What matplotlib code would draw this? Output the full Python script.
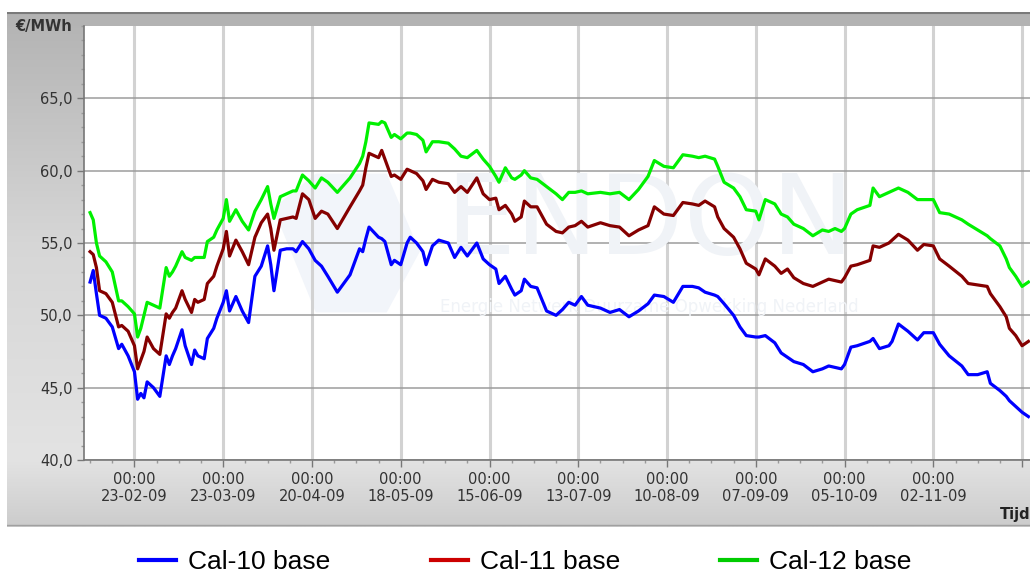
import matplotlib
matplotlib.use('Agg')
import matplotlib.pyplot as plt
import matplotlib.dates as mdates
from matplotlib.lines import Line2D
from matplotlib.patches import Rectangle, Polygon
from matplotlib.ticker import MultipleLocator
import numpy as np
import pandas as pd

dates = [
    '2009-02-09', '2009-02-10', '2009-02-11', '2009-02-12', '2009-02-14', '2009-02-16',
    '2009-02-18', '2009-02-19', '2009-02-21', '2009-02-23', '2009-02-24', '2009-02-25',
    '2009-02-26', '2009-02-27', '2009-03-01', '2009-03-03', '2009-03-05', '2009-03-06',
    '2009-03-07', '2009-03-08', '2009-03-10', '2009-03-11', '2009-03-13', '2009-03-14',
    '2009-03-15', '2009-03-17', '2009-03-18', '2009-03-20', '2009-03-21', '2009-03-23',
    '2009-03-24', '2009-03-25', '2009-03-27', '2009-03-29', '2009-03-31', '2009-04-02',
    '2009-04-04', '2009-04-06', '2009-04-07', '2009-04-08', '2009-04-10', '2009-04-12',
    '2009-04-14', '2009-04-15', '2009-04-17', '2009-04-19', '2009-04-21', '2009-04-23',
    '2009-04-25', '2009-04-28', '2009-05-02', '2009-05-05', '2009-05-06', '2009-05-07',
    '2009-05-08', '2009-05-11', '2009-05-12', '2009-05-13', '2009-05-15', '2009-05-16',
    '2009-05-18', '2009-05-20', '2009-05-21', '2009-05-23', '2009-05-25', '2009-05-26',
    '2009-05-28', '2009-05-30', '2009-06-02', '2009-06-04', '2009-06-06', '2009-06-08',
    '2009-06-11', '2009-06-13', '2009-06-15', '2009-06-17', '2009-06-18', '2009-06-20',
    '2009-06-22', '2009-06-23', '2009-06-25', '2009-06-26', '2009-06-28', '2009-06-30',
    '2009-07-03', '2009-07-06', '2009-07-08', '2009-07-10', '2009-07-12', '2009-07-14',
    '2009-07-16', '2009-07-20', '2009-07-23', '2009-07-26', '2009-07-29', '2009-08-01',
    '2009-08-04', '2009-08-06', '2009-08-09', '2009-08-12', '2009-08-15', '2009-08-18',
    '2009-08-20', '2009-08-22', '2009-08-25', '2009-08-26', '2009-08-28', '2009-08-31',
    '2009-09-02', '2009-09-04', '2009-09-07', '2009-09-08', '2009-09-10', '2009-09-13',
    '2009-09-15', '2009-09-17', '2009-09-19', '2009-09-22', '2009-09-25', '2009-09-28',
    '2009-09-30', '2009-10-02', '2009-10-04', '2009-10-05', '2009-10-07', '2009-10-09',
    '2009-10-13', '2009-10-14', '2009-10-16', '2009-10-19', '2009-10-20', '2009-10-22',
    '2009-10-25', '2009-10-28', '2009-10-30', '2009-11-02', '2009-11-04', '2009-11-07',
    '2009-11-11', '2009-11-13', '2009-11-16', '2009-11-19', '2009-11-20', '2009-11-23',
    '2009-11-25', '2009-11-26', '2009-11-28', '2009-11-30', '2009-12-02',
]

cal10 = [
    52.3, 53.1, 51.5, 50.0, 49.8, 49.2, 47.7, 48.0, 47.2, 46.1, 44.2, 44.6,
    44.3, 45.4, 45.0, 44.4, 47.2, 46.6, 47.2, 47.7, 49.0, 47.9, 46.6, 47.6,
    47.2, 47.0, 48.4, 49.1, 49.8, 50.9, 51.7, 50.3, 51.3, 50.3, 49.5, 52.7,
    53.4, 54.8, 53.5, 51.7, 54.5, 54.6, 54.6, 54.4, 55.1, 54.6, 53.8, 53.4,
    52.7, 51.6, 52.8, 54.6, 54.4, 55.3, 56.1, 55.4, 55.3, 55.1, 53.5, 53.8,
    53.5, 55.0, 55.4, 55.0, 54.4, 53.5, 54.8, 55.2, 55.0, 54.0, 54.7, 54.1,
    55.0, 53.9, 53.5, 53.2, 52.2, 52.7, 51.8, 51.4, 51.7, 52.5, 52.0, 51.9,
    50.3, 50.0, 50.4, 50.9, 50.7, 51.3, 50.7, 50.5, 50.2, 50.4, 49.9, 50.3,
    50.8, 51.4, 51.3, 50.9, 52.0, 52.0, 51.9, 51.6, 51.4, 51.3, 50.8, 50.0,
    49.2, 48.6, 48.5, 48.5, 48.6, 48.1, 47.4, 47.1, 46.8, 46.6, 46.1, 46.3,
    46.5, 46.4, 46.3, 46.6, 47.8, 47.9, 48.2, 48.4, 47.7, 47.9, 48.2, 49.4,
    48.9, 48.3, 48.8, 48.8, 48.0, 47.2, 46.5, 45.9, 45.9, 46.1, 45.3, 44.8,
    44.4, 44.1, 43.7, 43.3, 43.0,
]

cal11 = [
    54.4, 54.2, 53.3, 51.7, 51.5, 50.9, 49.2, 49.3, 48.9, 47.9, 46.3, 46.9,
    47.5, 48.5, 47.7, 47.3, 50.1, 49.8, 50.2, 50.5, 51.7, 51.1, 50.2, 51.1,
    50.9, 51.1, 52.2, 52.7, 53.4, 54.6, 55.8, 54.1, 55.2, 54.4, 53.5, 55.4,
    56.4, 57.0, 56.0, 54.5, 56.6, 56.7, 56.8, 56.7, 58.4, 58.0, 56.7, 57.2,
    57.0, 56.0, 57.5, 58.6, 59.0, 60.2, 61.2, 60.9, 61.4, 60.8, 59.6, 59.7,
    59.4, 60.1, 60.0, 59.8, 59.3, 58.7, 59.4, 59.2, 59.1, 58.5, 58.9, 58.5,
    59.5, 58.4, 58.0, 58.1, 57.3, 57.6, 57.0, 56.5, 56.8, 57.9, 57.5, 57.5,
    56.3, 55.8, 55.7, 56.1, 56.2, 56.5, 56.1, 56.4, 56.2, 56.1, 55.5, 55.9,
    56.2, 57.5, 57.0, 56.9, 57.8, 57.7, 57.6, 57.9, 57.5, 56.8, 56.0, 55.4,
    54.6, 53.6, 53.2, 52.8, 53.9, 53.4, 52.9, 53.2, 52.6, 52.2, 52.0, 52.3,
    52.5, 52.4, 52.3, 52.6, 53.4, 53.5, 53.8, 54.8, 54.7, 55.0, 55.2, 55.6,
    55.2, 54.5, 54.9, 54.8, 53.9, 53.4, 52.7, 52.2, 52.1, 52.0, 51.5, 50.6,
    49.9, 49.1, 48.6, 47.9, 48.2,
]

cal12 = [
    57.1, 56.6, 55.0, 54.1, 53.7, 53.0, 51.0, 51.0, 50.6, 50.1, 48.5, 49.1,
    50.0, 50.9, 50.7, 50.5, 53.3, 52.7, 53.0, 53.4, 54.4, 54.0, 53.8, 54.0,
    54.0, 54.0, 55.1, 55.4, 55.9, 56.7, 58.0, 56.5, 57.3, 56.5, 55.9, 57.2,
    58.0, 58.9, 57.7, 56.7, 58.2, 58.4, 58.6, 58.6, 59.7, 59.3, 58.8, 59.5,
    59.2, 58.5, 59.5, 60.5, 61.0, 62.0, 63.3, 63.2, 63.4, 63.3, 62.3, 62.5,
    62.2, 62.6, 62.6, 62.5, 62.1, 61.3, 62.0, 62.0, 61.9, 61.5, 61.0, 60.9,
    61.4, 60.8, 60.3, 59.6, 59.2, 60.2, 59.5, 59.4, 59.7, 60.0, 59.5, 59.4,
    58.9, 58.4, 58.0, 58.5, 58.5, 58.6, 58.4, 58.5, 58.4, 58.5, 58.0, 58.7,
    59.6, 60.7, 60.3, 60.2, 61.1, 61.0, 60.9, 61.0, 60.8, 60.3, 59.2, 58.8,
    58.2, 57.3, 57.2, 56.6, 58.0, 57.7, 57.0, 56.8, 56.3, 56.0, 55.5, 55.9,
    55.8, 56.0, 55.8, 56.0, 57.0, 57.3, 57.6, 58.8, 58.2, 58.5, 58.6, 58.8,
    58.5, 58.0, 58.0, 58.0, 57.1, 57.0, 56.6, 56.3, 55.9, 55.5, 55.3, 54.8,
    53.9, 53.3, 52.7, 52.0, 52.3,
]

series_names = ['Cal-10 base', 'Cal-11 base', 'Cal-12 base']
line_colors = ['#0000ff', '#850000', '#00f000']
legend_colors = ['#0000ff', '#cc0000', '#00cc00']

y_ticks = [40, 45, 50, 55, 60, 65]
x_major = pd.date_range('2009-02-23', periods=11, freq='28D')

W, H = 1030, 572
fig = plt.figure(figsize=(W / 100, H / 100), dpi=100)
fig.patch.set_facecolor('white')

# grijs paneel met verloop
bg = fig.add_axes([7 / W, (H - 527) / H, (W - 7) / W, (527 - 12) / H])
stops_y = [0.0, 0.03, 0.45, 0.87, 1.0]
stops_c = [(0.68, 0.68, 0.68), (0.71, 0.71, 0.71), (0.84, 0.84, 0.84),
           (0.89, 0.89, 0.89), (0.80, 0.80, 0.80)]
yy = np.linspace(0, 1, 300)
grad = np.stack([np.interp(yy, stops_y, [c[i] for c in stops_c]) for i in range(3)], axis=-1)
grad = np.repeat(grad[:, None, :], 2, axis=1)
bg.imshow(grad, aspect='auto', extent=[0, 1, 0, 1], origin='upper')
bg.add_patch(Rectangle((0, 1 - 13 / 515), 1, 13 / 515, color='#b3b3b3', lw=0))
bg.axhline(1 - 1 / 515, color='#7a7a7a', lw=1.5)
bg.axhline(0.003, color='#a0a0a0', lw=1)
bg.set_xlim(0, 1)
bg.set_ylim(0, 1)
bg.set_axis_off()

ax = fig.add_axes([84 / W, (H - 460) / H, (W - 84) / W, 434 / H])
ax.set_facecolor('white')

# watermerk (zeer licht)
ax.add_patch(Polygon([(0.20, 0.58), (0.245, 0.66), (0.32, 0.66), (0.355, 0.48),
                      (0.32, 0.34), (0.245, 0.34)], closed=True,
                     transform=ax.transAxes, facecolor='#f2f5fa', edgecolor='none', zorder=0.5))
ax.text(0.598, 0.545, 'ENDON', transform=ax.transAxes, fontsize=80, color='#f0f3f7',
        ha='center', va='center', zorder=0.6)
ax.text(0.598, 0.352, 'Energie Netwerk Duurzame Opwekking Nederland', transform=ax.transAxes,
        fontsize=12, color='#f0f3f7', ha='center', va='center', zorder=0.6)

x = pd.to_datetime(dates)
for vals, col in zip([cal10, cal11, cal12], line_colors):
    ax.plot(x, vals, color=col, lw=2.3, solid_joinstyle='round', zorder=3)

ax.set_ylim(40, 70)
ax.set_xlim(pd.Timestamp('2009-02-07 02:00'), pd.Timestamp('2009-12-02 12:00'))

ax.set_yticks(y_ticks, [f'{v:.1f}'.replace('.', ',') for v in y_ticks])
ax.yaxis.set_minor_locator(MultipleLocator(1))
x_labels = ['00:00\n' + d.strftime('%d-%m-%y') for d in x_major]
x_labels[-1] = ''
ax.set_xticks(x_major, x_labels)
ax.xaxis.set_minor_locator(mdates.WeekdayLocator(byweekday=mdates.MO))

ax.set_axisbelow(True)
ax.grid(axis='x', which='major', color='#d2d2d2', lw=2.2)
ax.grid(axis='y', which='major', color='#9c9c9c', lw=1.1)

for s in ['top', 'right']:
    ax.spines[s].set_visible(False)
for s in ['left', 'bottom']:
    ax.spines[s].set_color('#777777')
    ax.spines[s].set_linewidth(1.2)

ax.tick_params(which='major', direction='out', length=5, width=1, color='#777777',
               labelsize=10.5, labelcolor='#333333')
ax.tick_params(which='minor', direction='out', length=2.5, width=1, color='#999999')
ax.tick_params(axis='y', pad=3)
ax.tick_params(axis='x', pad=4)
for lab in ax.get_xticklabels():
    lab.set_linespacing(1.1)

ax.annotate('€/MWh', xy=(0, 1), xycoords='axes fraction', xytext=(-12, 0),
            textcoords='offset pixels', ha='right', va='center', fontsize=10.5,
            fontweight='bold', color='#333333')
fig.text(1000 / W, 1 - 515 / H, 'Tijd', fontsize=10.5, fontweight='bold',
         color='#222222', ha='left', va='center')

handles = [Line2D([], [], color=c, lw=3) for c in legend_colors]
fig.legend(handles, series_names, loc='center', bbox_to_anchor=(0.51, 1 - 562 / H),
           ncol=3, frameon=False, handlelength=1.4, handletextpad=0.45,
           columnspacing=3.8, prop={'family': 'Liberation Sans', 'size': 19})

fig.savefig('out.png', dpi=100)
